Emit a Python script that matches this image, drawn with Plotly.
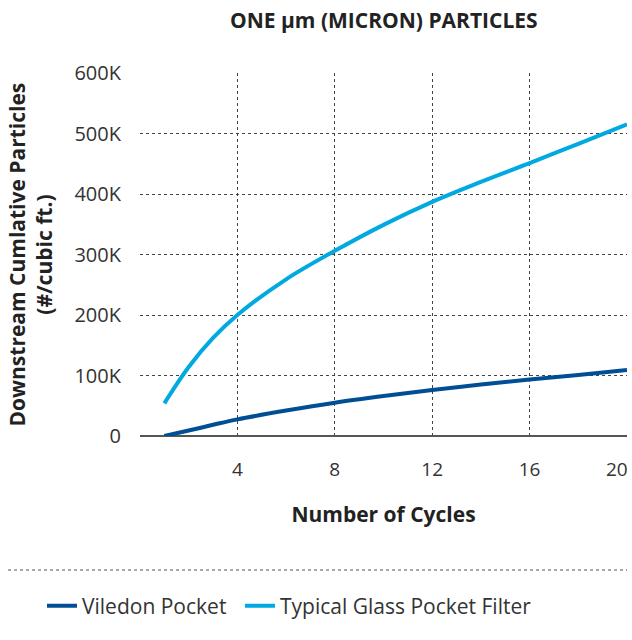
import plotly.graph_objects as go

cycles = [1, 2, 3, 4, 6, 8, 10, 12, 14, 16, 18, 20]
viledon = [0, 9000, 18500, 27500, 42000, 55000, 66000, 76000, 85000, 93500, 101000, 109000]
glass = [54000, 114000, 162000, 200000, 259000, 306000, 349000, 387000, 420000, 451000, 483000, 515000]

y_tickvals = [0, 100000, 200000, 300000, 400000, 500000, 600000]
y_ticktext = ["0", "100K", "200K", "300K", "400K", "500K", "600K"]
x_tickvals = [4, 8, 12, 16]
x_last_tick = 20  # drawn just inside the right edge, as in the original

FONT = "Open Sans"
TXT = "#333333"
W, H = 632, 640
L, R, T, B = 140, 5, 73, 204
PW = W - L - R
PH = H - T - B

def py(pix):
    return (H - B - pix) / PH

def px(pix):
    return (pix - L) / PW

fig = go.Figure()
fig.add_trace(go.Scatter(x=cycles, y=viledon, mode="lines", name="Viledon Pocket",
                         line=dict(color="#004f94", width=4, shape="spline", smoothing=1.0),
                         legend="legend"))
fig.add_trace(go.Scatter(x=cycles, y=glass, mode="lines", name="Typical Glass Pocket Filter",
                         line=dict(color="#00a9e0", width=4, shape="spline", smoothing=1.0),
                         legend="legend2"))

leg_common = dict(orientation="h", xanchor="left", yanchor="middle", y=py(606),
                  font=dict(size=21, color=TXT), itemwidth=30, bgcolor="rgba(0,0,0,0)")

fig.update_layout(
    width=W, height=H,
    margin=dict(l=L, r=R, t=T, b=B, autoexpand=False),
    plot_bgcolor="white", paper_bgcolor="white",
    font=dict(family=FONT, size=19, color=TXT),
    showlegend=True,
    legend=dict(x=px(42), **leg_common),
    legend2=dict(x=px(240), **leg_common),
    hovermode=False,
)
fig.update_xaxes(range=[0, 20], tickvals=x_tickvals, showgrid=True,
                 gridcolor="#444444", griddash="dot", gridwidth=1, automargin=False,
                 showline=False, zeroline=False, ticks="",
                 ticklabelstandoff=20, tickfont=dict(size=19, color=TXT),
                 title=dict(text="<b>Number of Cycles</b>", font=dict(size=21, color="#222222"), standoff=26))
fig.update_yaxes(range=[0, 600000], tickvals=y_tickvals, ticktext=y_ticktext,
                 showgrid=True, gridcolor="#444444", griddash="dot", gridwidth=1, automargin=False,
                 zeroline=True, zerolinecolor="#555555", zerolinewidth=1.5,
                 showline=False, ticks="", ticklabelstandoff=18,
                 tickfont=dict(size=20, color=TXT))

fig.add_annotation(text=str(x_last_tick), xref="x", yref="y", x=x_last_tick, y=0,
                   xanchor="right", yanchor="middle", xshift=3, yshift=-33, showarrow=False,
                   font=dict(size=19, color=TXT))
fig.add_annotation(text="<b>ONE µm (MICRON) PARTICLES</b>", xref="paper", yref="paper",
                   x=0.5, y=py(20), xanchor="center", yanchor="middle", showarrow=False,
                   font=dict(size=21, color="#222222"))
fig.add_annotation(text="<b>Downstream Cumlative Particles<br>(#/cubic ft.)</b>", xref="paper", yref="paper",
                   x=px(30), y=0.5, xanchor="center", yanchor="middle", showarrow=False,
                   textangle=-90, font=dict(size=21, color="#222222"))
fig.add_shape(type="line", xref="paper", yref="paper", x0=px(8), x1=px(627), y0=py(570), y1=py(570),
              line=dict(color="#555555", width=1, dash="dot"))

fig.write_html("out.html", config={"displayModeBar": False},
               post_script="document.body.style.margin='0';document.body.style.overflow='hidden';")
